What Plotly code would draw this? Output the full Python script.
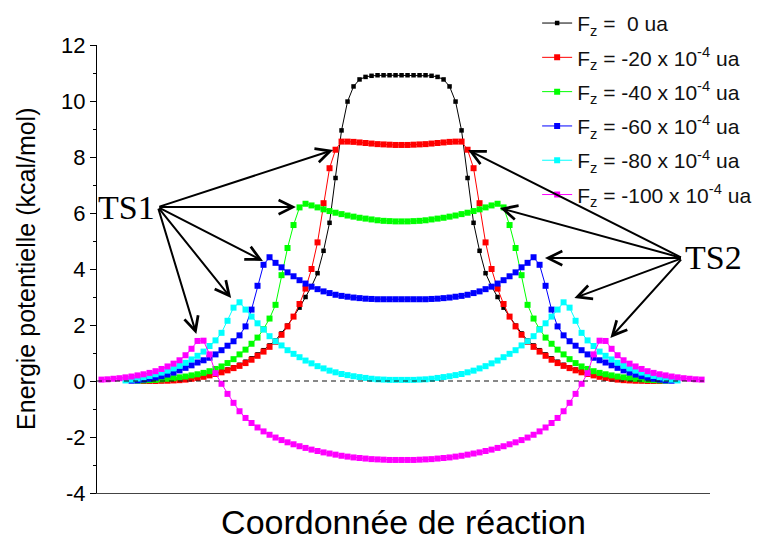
import plotly.graph_objects as go

# Reaction coordinate grids (arbitrary units, uniform IRC steps)
x_f0 = list(range(-43, 44))
x_f20 = list(range(-43, 44))
x_f40 = list(range(-44, 45))
x_f60 = list(range(-45, 46))
x_f80 = list(range(-46, 47))
x_f100 = list(range(-50, 51))

# Y-axis tick values and labels
y_tickvals = [-4, -2, 0, 2, 4, 6, 8, 10, 12]
y_ticktext = ["-4", "-2", "0", "2", "4", "6", "8", "10", "12"]

# Potential energy (kcal/mol)
y_f0 = [0.00, 0.00, 0.00, 0.00, 0.01, 0.02, 0.04, 0.06, 0.09, 0.12,
        0.16, 0.21, 0.27, 0.34, 0.41, 0.49, 0.58, 0.69, 0.81, 0.95,
        1.10, 1.27, 1.45, 1.70, 1.98, 2.30, 2.62, 3.00, 3.38, 3.85,
        4.65, 5.65, 7.25, 8.95, 9.98, 10.52, 10.77, 10.86, 10.90, 10.92,
        10.92, 10.92, 10.92,
        10.92,
        10.92, 10.92, 10.92, 10.92, 10.90, 10.86, 10.77, 10.52, 9.98, 8.95,
        7.25, 5.65, 4.65, 3.85, 3.38, 3.00, 2.62, 2.30, 1.98, 1.70,
        1.45, 1.27, 1.10, 0.95, 0.81, 0.69, 0.58, 0.49, 0.41, 0.34,
        0.27, 0.21, 0.16, 0.12, 0.09, 0.06, 0.04, 0.02, 0.01, 0.00,
        0.00, 0.00, 0.00]

y_f20 = [0.00, 0.00, 0.00, 0.01, 0.01, 0.02, 0.03, 0.05, 0.08, 0.11,
         0.15, 0.20, 0.25, 0.31, 0.38, 0.46, 0.54, 0.64, 0.76, 0.90,
         1.05, 1.22, 1.40, 1.65, 1.95, 2.30, 2.75, 3.30, 4.00, 4.95,
         6.35, 7.60, 8.26, 8.55, 8.55, 8.54, 8.52, 8.50, 8.48, 8.46,
         8.45, 8.44, 8.43,
         8.43,
         8.43, 8.44, 8.45, 8.46, 8.48, 8.50, 8.52, 8.54, 8.55, 8.55,
         8.26, 7.60, 6.35, 4.95, 4.00, 3.30, 2.75, 2.30, 1.95, 1.65,
         1.40, 1.22, 1.05, 0.90, 0.76, 0.64, 0.54, 0.46, 0.38, 0.31,
         0.25, 0.20, 0.15, 0.11, 0.08, 0.05, 0.03, 0.02, 0.01, 0.01,
         0.00, 0.00, 0.00]

y_f40 = [0.01, 0.02, 0.03, 0.04, 0.06, 0.08, 0.10, 0.13, 0.16, 0.20,
         0.24, 0.29, 0.35, 0.43, 0.52, 0.64, 0.78, 0.95, 1.12, 1.33,
         1.55, 1.85, 2.23, 2.72, 3.78, 4.75, 5.57, 6.20, 6.33, 6.27,
         6.20, 6.13, 6.07, 6.01, 5.96, 5.91, 5.87, 5.83, 5.80, 5.77,
         5.74, 5.72, 5.71, 5.70,
         5.70,
         5.70, 5.71, 5.72, 5.74, 5.77, 5.80, 5.83, 5.87, 5.91, 5.96,
         6.01, 6.07, 6.13, 6.20, 6.27, 6.33, 6.20, 5.57, 4.75, 3.78,
         2.72, 2.23, 1.85, 1.55, 1.33, 1.12, 0.95, 0.78, 0.64, 0.52,
         0.43, 0.35, 0.29, 0.24, 0.20, 0.16, 0.13, 0.10, 0.08, 0.06,
         0.04, 0.03, 0.02, 0.01]

y_f60 = [0.01, 0.02, 0.05, 0.08, 0.12, 0.17, 0.23, 0.30, 0.38, 0.47,
         0.56, 0.66, 0.74, 0.83, 0.95, 1.10, 1.26, 1.42, 1.63, 1.95,
         2.55, 3.40, 4.15, 4.42, 4.22, 4.06, 3.88, 3.74, 3.60, 3.48,
         3.37, 3.28, 3.20, 3.14, 3.08, 3.04, 3.01, 2.98, 2.96, 2.94,
         2.93, 2.92, 2.92, 2.92, 2.92,
         2.92,
         2.92, 2.92, 2.92, 2.92, 2.93, 2.94, 2.96, 2.98, 3.01, 3.04,
         3.08, 3.14, 3.20, 3.28, 3.37, 3.48, 3.60, 3.74, 3.88, 4.06,
         4.22, 4.42, 4.15, 3.40, 2.55, 1.95, 1.63, 1.42, 1.26, 1.10,
         0.95, 0.83, 0.74, 0.66, 0.56, 0.47, 0.38, 0.30, 0.23, 0.17,
         0.12, 0.08, 0.05, 0.02, 0.01]

y_f80 = [0.02, 0.05, 0.09, 0.13, 0.18, 0.24, 0.30, 0.37, 0.45, 0.54,
         0.65, 0.77, 0.90, 1.05, 1.25, 1.45, 1.72, 2.15, 2.62, 2.81,
         2.55, 2.30, 2.06, 1.84, 1.60, 1.42, 1.27, 1.10, 0.97, 0.85,
         0.73, 0.63, 0.53, 0.45, 0.37, 0.31, 0.25, 0.21, 0.17, 0.14,
         0.11, 0.08, 0.06, 0.05, 0.04, 0.04,
         0.04,
         0.04, 0.04, 0.05, 0.06, 0.08, 0.11, 0.14, 0.17, 0.21, 0.25,
         0.31, 0.37, 0.45, 0.53, 0.63, 0.73, 0.85, 0.97, 1.10, 1.27,
         1.42, 1.60, 1.84, 2.06, 2.30, 2.55, 2.81, 2.62, 2.15, 1.72,
         1.45, 1.25, 1.05, 0.90, 0.77, 0.65, 0.54, 0.45, 0.37, 0.30,
         0.24, 0.18, 0.13, 0.09, 0.05, 0.02]

y_f100 = [0.05, 0.06, 0.08, 0.10, 0.13, 0.16, 0.20, 0.24, 0.29, 0.35,
          0.43, 0.52, 0.62, 0.74, 0.92, 1.15, 1.43, 1.44, 0.95, 0.28,
          -0.10, -0.46, -0.78, -1.08, -1.32, -1.50, -1.66, -1.80, -1.92, -2.02,
          -2.11, -2.19, -2.26, -2.33, -2.39, -2.45, -2.50, -2.55, -2.59, -2.63,
          -2.67, -2.70, -2.73, -2.75, -2.77, -2.79, -2.80, -2.81, -2.82, -2.82,
          -2.82,
          -2.82, -2.82, -2.81, -2.80, -2.79, -2.77, -2.75, -2.73, -2.70, -2.67,
          -2.63, -2.59, -2.55, -2.50, -2.45, -2.39, -2.33, -2.26, -2.19, -2.11,
          -2.02, -1.92, -1.80, -1.66, -1.50, -1.32, -1.08, -0.78, -0.46, -0.10,
          0.28, 0.95, 1.44, 1.43, 1.15, 0.92, 0.74, 0.62, 0.52, 0.43,
          0.35, 0.29, 0.24, 0.20, 0.16, 0.13, 0.10, 0.08, 0.06, 0.05]

series_names = [
    "F<sub>z</sub> =\u00a0 0 ua",
    "F<sub>z</sub> = -20 x 10<sup>-4</sup> ua",
    "F<sub>z</sub> = -40 x 10<sup>-4</sup> ua",
    "F<sub>z</sub> = -60 x 10<sup>-4</sup> ua",
    "F<sub>z</sub> = -80 x 10<sup>-4</sup> ua",
    "F<sub>z</sub> = -100 x 10<sup>-4</sup> ua",
]
series_colors = ["#000000", "#FF0000", "#00FF00", "#0000FF", "#00FFFF", "#FF00FF"]
series_x = [x_f0, x_f20, x_f40, x_f60, x_f80, x_f100]
series_y = [y_f0, y_f20, y_f40, y_f60, y_f80, y_f100]

# Transition-state arrows: tail near the label, tips at the maxima
ts1_tail = (-40.6, 6.21)
ts1_tips = [(-11.4, 8.25), (-17.6, 6.21), (-23.1, 4.29), (-28.4, 2.96), (-34.2, 1.68)]
ts2_tail = (46.8, 4.39)
ts2_tips = [(11.1, 8.25), (16.4, 6.18), (23.9, 4.39), (28.8, 2.96), (34.8, 1.54)]

fig = go.Figure()
for i, (xs, ys, col, nm) in enumerate(zip(series_x, series_y, series_colors, series_names)):
    assert len(xs) == len(ys), (nm, len(xs), len(ys))
    msize = 4.5 if i == 0 else 6
    fig.add_trace(go.Scatter(
        x=xs, y=ys, mode="lines+markers", name=nm, legendgroup=str(i),
        line=dict(color=col, width=1),
        marker=dict(symbol="square", size=msize, color=col, line=dict(width=0)),
    ))

fig.add_shape(type="line", xref="paper", yref="y", x0=0, x1=0.99, y0=0, y1=0,
              line=dict(color="#111111", width=1, dash="5px,4px"), layer="above")

annotations = []
for (tx, ty) in ts1_tips:
    annotations.append(dict(x=tx, y=ty, ax=ts1_tail[0], ay=ts1_tail[1], xref="x", yref="y",
                            axref="x", ayref="y", text="", showarrow=True, arrowhead=5,
                            arrowsize=1.4, arrowwidth=2, arrowcolor="black"))
for (tx, ty) in ts2_tips:
    annotations.append(dict(x=tx, y=ty, ax=ts2_tail[0], ay=ts2_tail[1], xref="x", yref="y",
                            axref="x", ayref="y", text="", showarrow=True, arrowhead=5,
                            arrowsize=1.4, arrowwidth=2, arrowcolor="black"))
annotations.append(dict(x=-45.8, y=6.18, xref="x", yref="y", text="TS1", showarrow=False,
                        xanchor="center", yanchor="middle",
                        font=dict(family="Liberation Serif", size=34, color="black")))
annotations.append(dict(x=1.005, y=0.525, xref="paper", yref="paper", text="TS2", showarrow=False,
                        xanchor="center", yanchor="middle",
                        font=dict(family="Liberation Serif", size=34, color="black")))
annotations.append(dict(x=-0.116, y=0.5, xref="paper", yref="paper",
                        xanchor="center", yanchor="middle",
                        text="Energie potentielle (kcal/mol)", textangle=-90, showarrow=False,
                        font=dict(family="Liberation Sans", size=25, color="black")))

fig.update_layout(
    width=760, height=540,
    # page has an 8px body margin: plot area lands at x 97..710, y 45..493 on screen
    margin=dict(l=89, r=58, t=37, b=55, autoexpand=False),
    paper_bgcolor="white", plot_bgcolor="white",
    font=dict(family="Liberation Sans", color="black"),
    annotations=annotations,
    showlegend=True,
    legend=dict(x=0.718, y=1.094, xanchor="left", yanchor="top",
                font=dict(family="Liberation Sans", size=21, color="#111111"),
                bgcolor="rgba(0,0,0,0)", tracegroupgap=4, itemwidth=30),
    xaxis=dict(range=[-50.75, 51.4], showgrid=False, zeroline=False, showticklabels=False,
               ticks="", showline=True, linecolor="#444444", linewidth=1,
               title=dict(text="Coordonnée de réaction", font=dict(size=34), standoff=17)),
    yaxis=dict(range=[-4, 12], tickmode="array", tickvals=y_tickvals, ticktext=y_ticktext,
               showgrid=False, zeroline=False,
               ticks="outside", ticklen=6, tickwidth=1, tickcolor="black",
               showline=True, linecolor="black", linewidth=1,
               tickfont=dict(size=22),
               minor=dict(tickmode="linear", tick0=0, dtick=1, ticks="outside", ticklen=3,
                          tickcolor="black", showgrid=False)),
)

fig.write_html("out.html")
